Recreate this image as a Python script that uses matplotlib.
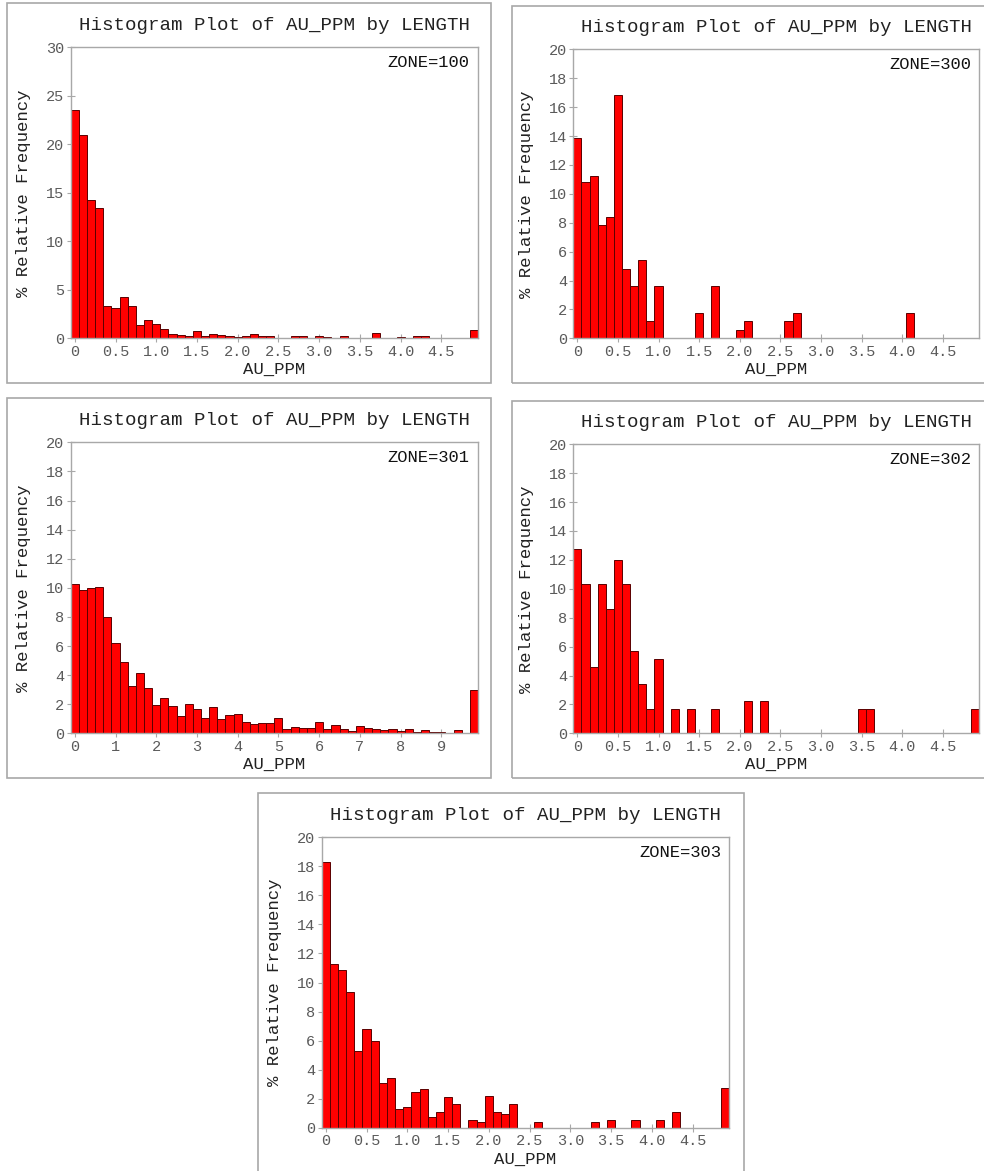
import numpy as np
import matplotlib
matplotlib.use("Agg")
import matplotlib.pyplot as plt
from matplotlib.patches import Rectangle

FONT = ["Liberation Mono", "DejaVu Sans Mono"]

# Relative frequency (%) of AU_PPM weighted by LENGTH, 50 bins per zone
zone_100 = [23.5, 21.0, 14.3, 13.4, 3.37, 3.09, 4.23, 3.33, 1.37, 1.89,
            1.48, 1.0, 0.48, 0.34, 0.27, 0.72, 0.27, 0.45, 0.38, 0.27,
            0.14, 0.24, 0.45, 0.2, 0.24, 0, 0, 0.24, 0.24, 0,
            0.24, 0.14, 0, 0.24, 0, 0, 0, 0.52, 0, 0,
            0.1, 0, 0.24, 0.24, 0, 0, 0, 0, 0, 0.86]
zone_300 = [13.84, 10.84, 11.23, 7.82, 8.42, 16.86, 4.8, 3.62, 5.42, 1.2,
            3.62, 0, 0, 0, 0, 1.78, 0, 3.62, 0, 0,
            0.58, 1.2, 0, 0, 0, 0, 1.2, 1.78, 0, 0,
            0, 0, 0, 0, 0, 0, 0, 0, 0, 0,
            0, 1.78, 0, 0, 0, 0, 0, 0, 0, 0]
zone_301 = [10.24, 9.85, 9.97, 10.08, 8.0, 6.19, 4.9, 3.28, 4.12, 3.09,
            1.92, 2.43, 1.88, 1.21, 1.99, 1.67, 1.03, 1.79, 0.99, 1.24,
            1.31, 0.76, 0.62, 0.69, 0.69, 1.03, 0.27, 0.46, 0.37, 0.37,
            0.78, 0.27, 0.55, 0.27, 0.16, 0.53, 0.34, 0.27, 0.21, 0.27,
            0.14, 0.27, 0.09, 0.21, 0.09, 0.09, 0, 0.21, 0, 2.97]
zone_302 = [12.73, 10.31, 4.57, 10.31, 8.58, 12.02, 10.31, 5.7, 3.41, 1.68,
            5.12, 0, 1.68, 0, 1.68, 0, 0, 1.68, 0, 0,
            0, 2.26, 0, 2.26, 0, 0, 0, 0, 0, 0,
            0, 0, 0, 0, 0, 1.68, 1.68, 0, 0, 0,
            0, 0, 0, 0, 0, 0, 0, 0, 0, 1.68]
zone_303 = [18.3, 11.27, 10.84, 9.32, 5.3, 6.77, 5.95, 3.05, 3.42, 1.26,
            1.45, 2.43, 2.69, 0.76, 1.08, 2.14, 1.63, 0, 0.55, 0.39,
            2.18, 1.06, 0.92, 1.63, 0, 0, 0.39, 0, 0, 0,
            0, 0, 0, 0.39, 0, 0.55, 0, 0, 0.55, 0,
            0, 0.55, 0, 1.08, 0, 0, 0, 0, 0, 2.71]

zone_names = ["ZONE=100", "ZONE=300", "ZONE=301", "ZONE=302", "ZONE=303"]
bin_widths = [0.1, 0.1, 0.2, 0.1, 0.1]
y_max = [30, 20, 20, 20, 20]
y_step = [5, 2, 2, 2, 2]

ticks_5 = [0, 0.5, 1.0, 1.5, 2.0, 2.5, 3.0, 3.5, 4.0, 4.5]
labels_5 = ["0", "0.5", "1.0", "1.5", "2.0", "2.5", "3.0", "3.5", "4.0", "4.5"]
ticks_10 = list(range(10))
labels_10 = [str(t) for t in ticks_10]

W, H = 984, 1171
fig = plt.figure(figsize=(W / 100, H / 100), dpi=100)
fig.patch.set_facecolor("white")

# panel layout in pixels: axes (left, right, top, bottom), frame (left, top, right, bottom)
axes_px = [
    (70.7, 478.0, 47.3, 338.3),
    (573.3, 979.3, 49.3, 338.3),
    (70.7, 478.0, 442.3, 733.3),
    (573.3, 979.3, 444.3, 733.3),
    (321.7, 729.3, 837.3, 1127.7),
]
frames_px = [
    (7.3, 3.3, 490.5, 382.5),
    (511.7, 5.7, 990, 382.5),
    (7.3, 397.7, 490.5, 777.5),
    (511.7, 400.7, 990, 777.5),
    (258.3, 792.7, 743.5, 1180),
]

data = [zone_100, zone_300, zone_301, zone_302, zone_303]
SPINE = "#a8a8a8"
TICK_TXT = "#5a5a5a"

for i, vals in enumerate(data):
    fl, ft, fr, fb = frames_px[i]
    fig.patches.append(Rectangle((fl / W, 1 - fb / H), (fr - fl) / W, (fb - ft) / H,
                                 transform=fig.transFigure, fill=False,
                                 edgecolor=SPINE, lw=1.2, zorder=0))
    l, r, t, b = axes_px[i]
    ax = fig.add_axes([l / W, 1 - b / H, (r - l) / W, (b - t) / H])
    bw = bin_widths[i]
    vals = np.asarray(vals, dtype=float)
    centers = np.arange(len(vals)) * bw
    keep = vals > 0
    ax.bar(centers[keep], vals[keep], width=bw, align="center",
           color="#ff0000", edgecolor="#5a0000", linewidth=0.7, zorder=2)
    ax.set_xlim(-bw / 2, len(vals) * bw - bw / 2)
    ax.set_ylim(0, y_max[i])
    yt = np.arange(0, y_max[i] + 0.1, y_step[i])
    ax.set_yticks(yt)
    ax.set_yticklabels([str(int(v)) for v in yt])
    if bw > 0.15:
        ax.set_xticks(ticks_10)
        ax.set_xticklabels(labels_10)
    else:
        ax.set_xticks(ticks_5)
        ax.set_xticklabels(labels_5)
    for s in ax.spines.values():
        s.set_color(SPINE)
        s.set_linewidth(1.0)
    ax.tick_params(axis="both", direction="inout", length=6, width=0.8,
                   color=SPINE, labelcolor=TICK_TXT, labelsize=11, pad=1.5)
    for lab in ax.get_xticklabels() + ax.get_yticklabels():
        lab.set_family(FONT)
    ax.set_xlabel("AU_PPM", family=FONT, fontsize=12.4, color="#222222", labelpad=2.5)
    ax.set_ylabel("% Relative Frequency", family=FONT, fontsize=12.5,
                  color="#222222", labelpad=11)
    ax.text(0.98, 0.973, zone_names[i], transform=ax.transAxes, ha="right", va="top",
            family=FONT, fontsize=12.3, color="#111111")
    fig.text((l + r) / 2 / W, 1 - (t - 22) / H, "Histogram Plot of AU_PPM by LENGTH",
             ha="center", va="center", family=FONT, fontsize=13.8, color="#222222")

fig.savefig("out.png", dpi=100, facecolor="white")
